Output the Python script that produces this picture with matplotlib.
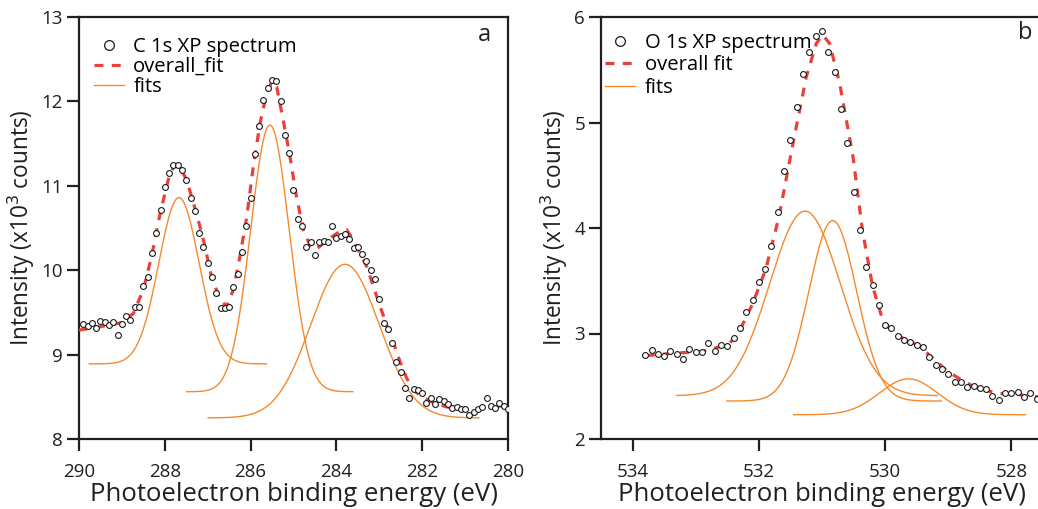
import numpy as np
import matplotlib
matplotlib.use("Agg")
import matplotlib.pyplot as plt
from matplotlib.lines import Line2D

plt.rcParams['font.family'] = ['Open Sans', 'DejaVu Sans']

# ---------------- C 1s panel data ----------------
c_energy_start, c_energy_step = 289.9, -0.1
c_counts = [9.36, 9.34, 9.38, 9.32, 9.40, 9.39, 9.35, 9.39, 9.23, 9.36,
            9.46, 9.41, 9.56, 9.56, 9.81, 9.92, 10.20, 10.44, 10.71, 10.98,
            11.15, 11.25, 11.25, 11.19, 11.07, 10.85, 10.70, 10.44, 10.27, 10.09,
            9.92, 9.73, 9.55, 9.55, 9.56, 9.80, 9.96, 10.22, 10.52, 10.86,
            11.38, 11.71, 12.02, 12.16, 12.25, 12.24, 12.01, 11.60, 11.39, 10.95,
            10.61, 10.52, 10.28, 10.34, 10.18, 10.34, 10.35, 10.33, 10.52, 10.38,
            10.41, 10.43, 10.37, 10.26, 10.27, 10.19, 10.11, 10.00, 9.90, 9.66,
            9.37, 9.30, 9.14, 8.91, 8.79, 8.60, 8.49, 8.59, 8.58, 8.55,
            8.43, 8.49, 8.42, 8.47, 8.45, 8.41, 8.37, 8.38, 8.35, 8.35,
            8.29, 8.32, 8.35, 8.38, 8.48, 8.39, 8.37, 8.43, 8.39, 8.35]
c_fit_energy = [290.0, 289.51, 289.0, 288.73, 288.50, 288.31, 288.11, 287.92, 287.80, 287.68,
                287.49, 287.26, 287.10, 286.91, 286.71, 286.56, 286.40, 286.25, 286.09, 285.94,
                285.78, 285.63, 285.51, 285.39, 285.24, 285.08, 284.93, 284.77, 284.62, 284.50,
                284.34, 284.15, 283.92, 283.76, 283.61, 283.45, 283.29, 283.14, 282.98, 282.83,
                282.67, 282.52, 282.36, 282.21, 281.97, 281.74, 281.43, 281.12, 280.81, 280.50,
                280.19, 280.0]
c_fit_counts = [9.29, 9.33, 9.38, 9.49, 9.77, 10.16, 10.67, 11.07, 11.22, 11.25,
                11.07, 10.67, 10.36, 9.92, 9.65, 9.57, 9.77, 10.16, 10.63, 11.22,
                11.74, 12.09, 12.23, 12.17, 11.78, 11.34, 10.87, 10.48, 10.30, 10.24,
                10.30, 10.38, 10.46, 10.48, 10.36, 10.20, 10.04, 9.81, 9.57, 9.35,
                9.14, 8.92, 8.72, 8.58, 8.49, 8.43, 8.38, 8.35, 8.35, 8.37,
                8.39, 8.39]
# Gaussian components (centre, height, sigma, baseline, start, end)
c_comp_center = [287.67, 285.55, 283.80]
c_comp_top = [10.86, 11.72, 10.07]
c_comp_sigma = [0.47, 0.45, 0.80]
c_comp_base = [8.89, 8.56, 8.25]
c_comp_start = [289.76, 287.49, 286.99]
c_comp_end = [285.63, 283.62, 280.68]

# ---------------- O 1s panel data ----------------
o_energy_start, o_energy_step = 533.8, -0.1
o_counts = [2.80, 2.84, 2.81, 2.79, 2.83, 2.81, 2.76, 2.85, 2.82, 2.82,
            2.91, 2.83, 2.89, 2.88, 2.96, 3.05, 3.20, 3.32, 3.49, 3.61,
            3.83, 4.15, 4.54, 4.83, 5.15, 5.46, 5.67, 5.82, 5.87, 5.67,
            5.48, 5.13, 4.81, 4.34, 3.98, 3.63, 3.46, 3.27, 3.08, 3.05,
            2.98, 2.94, 2.92, 2.89, 2.87, 2.78, 2.70, 2.66, 2.62, 2.54,
            2.54, 2.49, 2.50, 2.48, 2.47, 2.41, 2.37, 2.44, 2.44, 2.45,
            2.40, 2.44, 2.38]
o_fit_energy = [533.79, 533.42, 532.89, 532.47, 532.31, 532.10, 531.89, 531.68, 531.46, 531.25,
                531.09, 530.99, 530.88, 530.72, 530.51, 530.36, 530.20, 530.04, 529.88, 529.67,
                529.46, 529.25, 529.03, 528.82, 528.61, 528.40, 528.19, 527.98, 527.77, 527.58]
o_fit_counts = [2.79, 2.81, 2.83, 2.90, 3.02, 3.28, 3.61, 4.11, 4.80, 5.43,
                5.75, 5.83, 5.75, 5.37, 4.68, 3.98, 3.45, 3.13, 3.01, 2.94,
                2.88, 2.77, 2.65, 2.57, 2.50, 2.46, 2.43, 2.43, 2.41, 2.40]
o_comp_center = [531.27, 530.83, 529.63]
o_comp_top = [4.16, 4.07, 2.57]
o_comp_sigma = [0.56, 0.38, 0.46]
o_comp_base = [2.41, 2.36, 2.23]
o_comp_start = [533.30, 532.51, 531.45]
o_comp_end = [529.17, 529.11, 527.78]

DATA_C = '#1a1a1a'
FIT_C = '#e8413a'
COMP_C = '#f5892c'
AX_C = '#231f20'


def component(center, top, sigma, base, start, end):
    e = np.linspace(start, end, 300)
    return e, base + (top - base) * np.exp(-0.5 * ((e - center) / sigma) ** 2)


def draw(ax, e0, step, counts, fe, fc, comps):
    energy = e0 + step * np.arange(len(counts))
    for c, t, s, b, st, en in zip(*comps):
        e, y = component(c, t, s, b, st, en)
        ax.plot(e, y, color=COMP_C, lw=1.0, zorder=2)
    ax.plot(fe, fc, color=FIT_C, lw=2.3, linestyle=(0, (2.8, 2.6)), zorder=3)
    ax.plot(energy, counts, linestyle='none', marker='o', ms=4.2, mfc='white',
            mec=DATA_C, mew=0.8, zorder=4)
    handles = [Line2D([], [], linestyle='none', marker='o', ms=7, mfc='white', mec=DATA_C, mew=0.9),
               Line2D([], [], color=FIT_C, lw=2.3, linestyle=(0, (2.8, 2.6))),
               Line2D([], [], color=COMP_C, lw=1.0)]
    return handles


fig = plt.figure(figsize=(10.38, 5.09), dpi=100)
axL = fig.add_axes([79 / 1038, 70 / 509, 429 / 1038, 422 / 509])
axR = fig.add_axes([601 / 1038, 70 / 509, 442 / 1038, 422 / 509])

hL = draw(axL, c_energy_start, c_energy_step, c_counts, c_fit_energy, c_fit_counts,
          (c_comp_center, c_comp_top, c_comp_sigma, c_comp_base, c_comp_start, c_comp_end))
hR = draw(axR, o_energy_start, o_energy_step, o_counts, o_fit_energy, o_fit_counts,
          (o_comp_center, o_comp_top, o_comp_sigma, o_comp_base, o_comp_start, o_comp_end))

axL.set_xlim(290, 280)
axL.set_ylim(8, 13)
axL.set_xticks([290, 288, 286, 284, 282, 280])
axL.set_yticks([8, 9, 10, 11, 12, 13])
axR.set_xlim(534.5, 527.5)
axR.set_ylim(2, 6)
axR.set_xticks([534, 532, 530, 528])
axR.set_yticks([2, 3, 4, 5, 6])

for ax in (axL, axR):
    for sp in ax.spines.values():
        sp.set_color(AX_C)
        sp.set_linewidth(1.6)
    ax.tick_params(axis='both', direction='out', length=8.5, width=1.6, color=AX_C,
                   labelsize=13.5, labelcolor='#231f20')
    ax.tick_params(axis='x', pad=9)
    ax.tick_params(axis='y', pad=3)
    ax.set_xlabel('Photoelectron binding energy (eV)', fontsize=18.5, color='#231f20', labelpad=0.5)
    ax.set_ylabel('Intensity (x10$^3$ counts)', fontsize=16.3, color='#231f20', labelpad=3)

axL.legend(hL, ['C 1s XP spectrum', 'overall_fit', 'fits'], loc='upper left',
           bbox_to_anchor=(0.025, 0.963), frameon=False, fontsize=14.6,
           handlelength=1.5, handletextpad=0.45, labelspacing=0.0, borderpad=0.2,
           borderaxespad=0)
axR.legend(hR, ['O 1s XP spectrum', 'overall fit', 'fits'], loc='upper left',
           bbox_to_anchor=(0.0, 0.972), frameon=False, fontsize=14.6,
           handlelength=1.5, handletextpad=0.45, labelspacing=0.12, borderpad=0.2,
           borderaxespad=0)

fig.text(484 / 1038, 1 - 35 / 509, 'a', fontsize=17,
         ha='center', va='center', color='#231f20')
fig.text(1025 / 1038, 1 - 33 / 509, 'b', fontsize=17,
         ha='center', va='center', color='#231f20')

fig.savefig('out.png', dpi=100)
